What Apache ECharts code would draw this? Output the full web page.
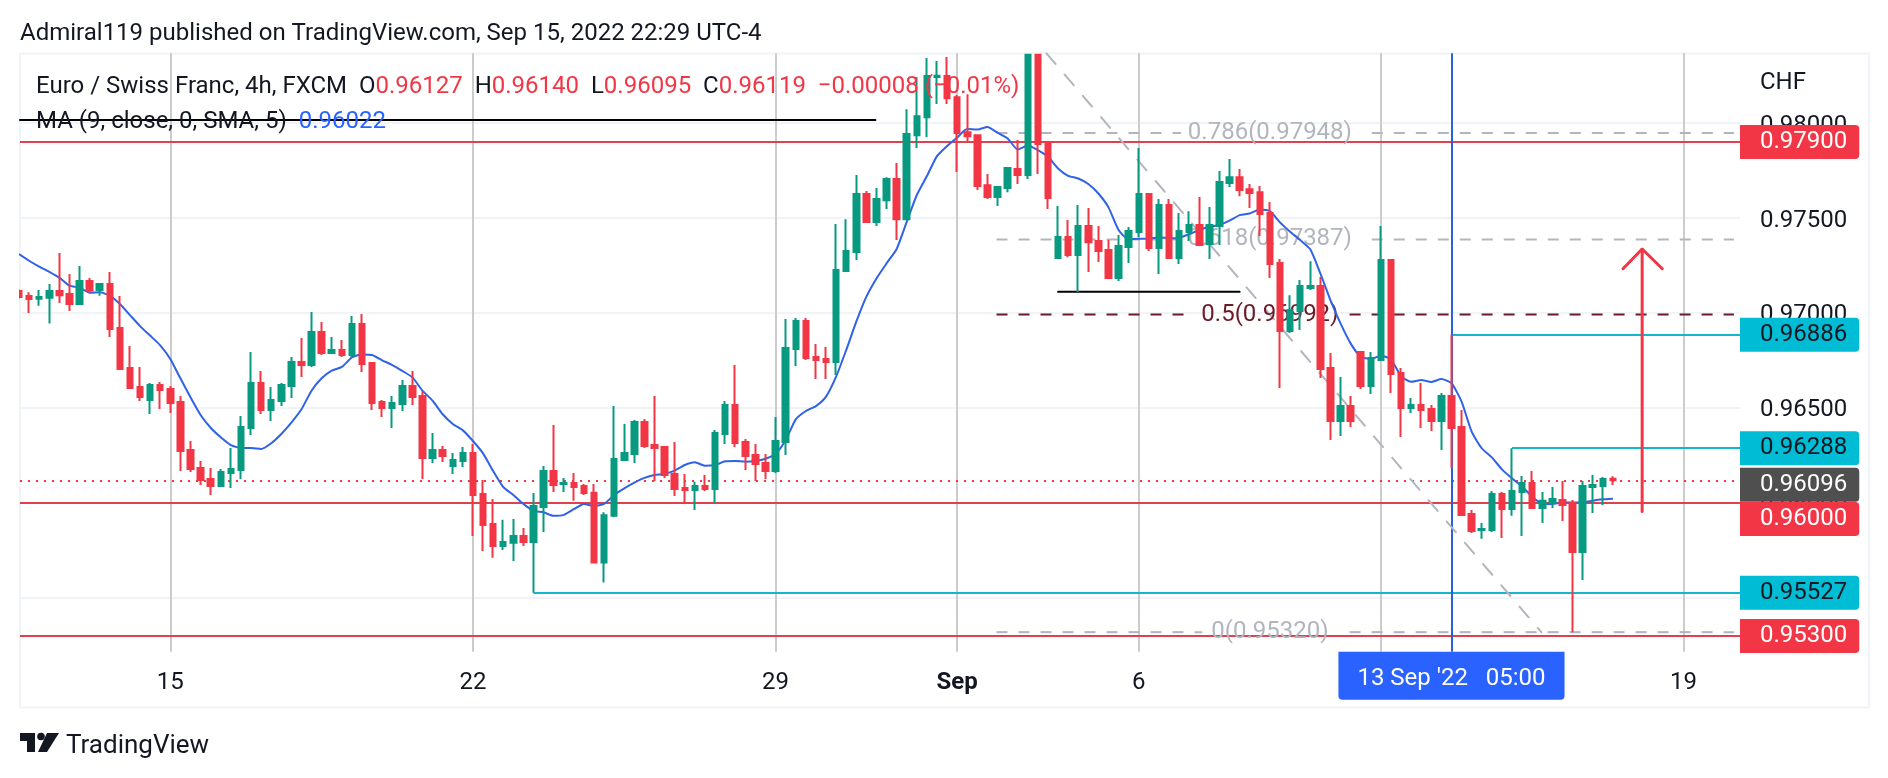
<!DOCTYPE html>
<html>
<head>
<meta charset="utf-8">
<title>EURCHF</title>
<script src="https://cdn.jsdelivr.net/npm/echarts@6/dist/echarts.min.js"></script>
<style>
  html, body { margin: 0; padding: 0; background: #fff; }
  #chart { width: 1888px; height: 778px; }
</style>
</head>
<body>
<div id="chart"></div>
<script>
// candles (bar number = position on the time axis)
const opens = [
  0.97116,0.97089,0.97075,0.97080,0.97116,0.97100,0.97047,0.97168,0.97121,0.97152,
  0.96921,0.96710,0.96610,0.96542,0.96621,0.96600,0.96531,0.96279,0.96184,0.96126,
  0.96089,0.96158,0.96174,0.96395,0.96631,0.96489,0.96537,0.96616,0.96742,0.96726,
  0.96900,0.96789,0.96805,0.96779,0.96942,0.96737,0.96531,0.96500,0.96521,0.96616,
  0.96563,0.96237,0.96279,0.96195,0.96221,0.96263,0.96047,0.95889,0.95774,0.95790,
  0.95826,0.95795,0.95979,0.96168,0.96100,0.96105,0.96089,0.96054,0.95686,0.95932,
  0.96226,0.96258,0.96426,0.96305,0.96295,0.96153,0.96079,0.96068,0.96089,0.96074,
  0.96363,0.96516,0.96321,0.96253,0.96210,0.96168,0.96321,0.96810,0.96958,0.96768,
  0.96758,0.96742,0.97221,0.97321,0.97626,0.97479,0.97594,0.97705,0.97494,0.97936,
  0.98031,0.98242,0.98247,0.98136,0.97952,0.97936,0.97673,0.97610,0.97658,0.97758,
  0.97726,0.98360,0.97900,0.97289,0.97400,0.97305,0.97458,0.97379,0.97331,0.97184,
  0.97347,0.97426,0.97626,0.97342,0.97568,0.97289,0.97426,0.97463,0.97363,0.97458,
  0.97684,0.97715,0.97652,0.97636,0.97526,0.97263,0.96905,0.97010,0.97131,0.97142,
  0.96710,0.96431,0.96510,0.96795,0.96616,0.96752,0.97279,0.96684,0.96500,0.96516,
  0.96495,0.96431,0.96563,0.96400,0.95942,0.95858,0.95858,0.96047,0.95968,0.96058,
  0.96105,0.95974,0.96000,0.96016,0.96000,0.95742,0.96084,0.96089,0.96127
];
const closes = [
  0.97084,0.97073,0.97084,0.97116,0.97094,0.97047,0.97168,0.97119,0.97152,0.96916,
  0.96705,0.96605,0.96558,0.96621,0.96595,0.96526,0.96274,0.96179,0.96121,0.96089,
  0.96163,0.96179,0.96400,0.96631,0.96489,0.96542,0.96621,0.96742,0.96726,0.96900,
  0.96789,0.96805,0.96779,0.96942,0.96731,0.96526,0.96500,0.96526,0.96616,0.96558,
  0.96237,0.96279,0.96247,0.96226,0.96263,0.96042,0.95884,0.95774,0.95795,0.95826,
  0.95795,0.95984,0.96168,0.96095,0.96105,0.96084,0.96053,0.95686,0.95935,0.96232,
  0.96263,0.96426,0.96300,0.96289,0.96147,0.96074,0.96068,0.96089,0.96074,0.96368,
  0.96516,0.96316,0.96247,0.96205,0.96168,0.96326,0.96816,0.96958,0.96763,0.96752,
  0.96742,0.97226,0.97326,0.97626,0.97479,0.97600,0.97705,0.97494,0.97942,0.98036,
  0.98247,0.98249,0.98131,0.97947,0.97931,0.97668,0.97610,0.97663,0.97763,0.97726,
  0.98360,0.97889,0.97605,0.97400,0.97305,0.97458,0.97373,0.97326,0.97184,0.97352,
  0.97431,0.97626,0.97342,0.97568,0.97289,0.97431,0.97463,0.97358,0.97463,0.97689,
  0.97715,0.97647,0.97631,0.97521,0.97258,0.96905,0.97016,0.97142,0.97142,0.96705,
  0.96431,0.96510,0.96431,0.96616,0.96763,0.97279,0.96679,0.96500,0.96516,0.96489,
  0.96431,0.96563,0.96395,0.95937,0.95853,0.95863,0.96047,0.95968,0.96063,0.96105,
  0.95974,0.96011,0.96021,0.95989,0.95742,0.96089,0.96095,0.96126,0.96119
];
const lows = [
  0.97075,0.97000,0.97038,0.96944,0.97052,0.97010,0.97047,0.97107,0.97091,0.96873,
  0.96705,0.96605,0.96537,0.96468,0.96495,0.96474,0.96168,0.96163,0.96095,0.96042,
  0.96089,0.96079,0.96126,0.96358,0.96468,0.96431,0.96510,0.96553,0.96663,0.96716,
  0.96779,0.96789,0.96768,0.96763,0.96689,0.96489,0.96453,0.96395,0.96484,0.96516,
  0.96126,0.96210,0.96216,0.96153,0.96189,0.95826,0.95747,0.95711,0.95753,0.95695,
  0.95774,0.95527,0.95847,0.96058,0.96058,0.96011,0.96042,0.95686,0.95581,0.95926,
  0.96221,0.96210,0.96289,0.96116,0.96132,0.96037,0.96000,0.95963,0.96063,0.96000,
  0.96310,0.96295,0.96174,0.96116,0.96126,0.96158,0.96253,0.96721,0.96752,0.96652,
  0.96652,0.96674,0.97221,0.97279,0.97479,0.97458,0.97547,0.97384,0.97494,0.97868,
  0.97926,0.98100,0.98100,0.97742,0.97900,0.97647,0.97600,0.97563,0.97636,0.97679,
  0.97705,0.97731,0.97547,0.97289,0.97294,0.97110,0.97216,0.97268,0.97184,0.97168,
  0.97263,0.97400,0.97326,0.97205,0.97289,0.97258,0.97379,0.97358,0.97284,0.97358,
  0.97663,0.97615,0.97552,0.97405,0.97184,0.96605,0.96895,0.96910,0.97121,0.96658,
  0.96332,0.96353,0.96400,0.96600,0.96574,0.96752,0.96579,0.96347,0.96474,0.96395,
  0.96379,0.96279,0.96184,0.95932,0.95842,0.95811,0.95847,0.95816,0.95932,0.95826,
  0.95968,0.95895,0.95974,0.95905,0.95320,0.95595,0.95947,0.95989,0.96095
];
const highs = [
  0.97125,0.97109,0.97121,0.97152,0.97316,0.97205,0.97247,0.97184,0.97158,0.97216,
  0.97089,0.96826,0.96716,0.96631,0.96637,0.96616,0.96563,0.96326,0.96221,0.96184,
  0.96179,0.96289,0.96458,0.96795,0.96695,0.96610,0.96631,0.96768,0.96868,0.97005,
  0.96952,0.96873,0.96858,0.96984,0.96995,0.96742,0.96542,0.96563,0.96647,0.96695,
  0.96589,0.96368,0.96300,0.96263,0.96295,0.96310,0.96121,0.96021,0.95911,0.95916,
  0.95868,0.96053,0.96195,0.96410,0.96132,0.96158,0.96100,0.96100,0.95951,0.96510,
  0.96416,0.96437,0.96442,0.96563,0.96295,0.96321,0.96153,0.96111,0.96147,0.96384,
  0.96537,0.96726,0.96337,0.96310,0.96258,0.96453,0.96968,0.96973,0.96973,0.96837,
  0.96821,0.97468,0.97494,0.97726,0.97642,0.97658,0.97715,0.97789,0.98073,0.98242,
  0.98342,0.98326,0.98347,0.98147,0.98152,0.97936,0.97731,0.97668,0.97768,0.97910,
  0.98360,0.98360,0.97900,0.97563,0.97489,0.97568,0.97552,0.97458,0.97384,0.97410,
  0.97452,0.97868,0.97626,0.97600,0.97600,0.97526,0.97536,0.97610,0.97558,0.97747,
  0.97810,0.97758,0.97679,0.97668,0.97584,0.97284,0.97094,0.97173,0.97273,0.97189,
  0.96789,0.96663,0.96563,0.96795,0.96795,0.97458,0.97279,0.96710,0.96553,0.96631,
  0.96516,0.96579,0.96886,0.96489,0.95963,0.95895,0.96063,0.96058,0.96288,0.96142,
  0.96168,0.96058,0.96084,0.96116,0.96016,0.96116,0.96147,0.96137,0.96140
];
// the blue MA line as drawn
const maValues = [
  0.97310,0.97275,0.97244,0.97217,0.97186,0.97144,0.97133,0.97107,0.97109,0.97091,
  0.97047,0.96989,0.96931,0.96881,0.96830,0.96758,0.96656,0.96556,0.96463,0.96396,
  0.96346,0.96305,0.96289,0.96289,0.96284,0.96314,0.96363,0.96423,0.96493,0.96591,
  0.96656,0.96696,0.96716,0.96766,0.96782,0.96779,0.96751,0.96726,0.96695,0.96661,
  0.96591,0.96538,0.96467,0.96416,0.96382,0.96326,0.96261,0.96168,0.96084,0.96042,
  0.95995,0.95958,0.95951,0.95932,0.95937,0.95967,0.95995,0.95984,0.95995,0.96042,
  0.96077,0.96107,0.96132,0.96147,0.96153,0.96170,0.96200,0.96214,0.96196,0.96200,
  0.96219,0.96221,0.96217,0.96221,0.96233,0.96258,0.96331,0.96440,0.96484,0.96510,
  0.96560,0.96665,0.96805,0.96954,0.97086,0.97182,0.97261,0.97337,0.97480,0.97621,
  0.97721,0.97826,0.97879,0.97924,0.97968,0.97966,0.97979,0.97949,0.97919,0.97861,
  0.97882,0.97857,0.97822,0.97761,0.97722,0.97708,0.97679,0.97629,0.97556,0.97437,
  0.97387,0.97391,0.97391,0.97398,0.97393,0.97396,0.97415,0.97437,0.97454,0.97463,
  0.97486,0.97515,0.97524,0.97545,0.97536,0.97477,0.97428,0.97384,0.97335,0.97208,
  0.97068,0.96945,0.96840,0.96770,0.96758,0.96775,0.96756,0.96668,0.96638,0.96647,
  0.96637,0.96652,0.96630,0.96533,0.96375,0.96288,0.96240,0.96177,0.96130,0.96086,
  0.96033,0.95995,0.95995,0.96002,0.96002,0.96002,0.96012,0.96019,0.96022
];

// time axis
const tickBars = [15, 45, 75, 93, 111, 135, 165];
const tickNames = ['15', '22', '29', 'Sep', '6', '12', '19'];
const labelledBars = [15, 45, 75, 93, 111, 165];
// price axis
const priceTicks = [0.955, 0.96, 0.965, 0.97, 0.975, 0.98];

// drawn levels
const redLevels = [0.979, 0.96, 0.953];
const tealLevels = [0.96886, 0.96288, 0.95527];
const tealStartBars = [142, 148, 51];
const lastClose = 0.96119;
const lastTag = 0.96096;
const crosshairBar = 142;
const fibNames = ['0.786(0.97948)', '0.618(0.97387)', '0.5(0.96992)', '0(0.95320)'];
const fibPrices = [0.97948, 0.97387, 0.96992, 0.9532];
const fibGapFrom = [115.2, 115.2, 115.6, 117.3];
const fibGapTo = [134.1, 134.1, 131.9, 131.9];
const fibFrom = 96.9, fibTo = 170, fibLabelBar = 124;

const xMin = 0.1, xMax = 170.6, yMin = 0.95217, yMax = 0.98367;
const RED = '#f23645', GREEN = '#089981', TEAL = '#00bcd4', GREY = '#b2b5be', WINE = '#6d1a27', INK = '#131722';
const FONT = 'Roboto';

const tag = (price, bg, fg, dy) => ({
  show: true, opacity: 1, position: 'end', distance: 0, formatter: price.toFixed(5),
  offset: [0, dy || 0],
  backgroundColor: bg, color: fg, fontFamily: FONT, fontSize: 24, lineHeight: 24,
  padding: [6, 12, 4, 20], borderRadius: [0, 4, 4, 0]
});
const noLabel = { show: false };

const levelLines = [];
redLevels.forEach(v => levelLines.push([
  // the 0.96000 tag is pushed down by the dark tag above it
  { coord: [xMin, v], lineStyle: { color: '#e0414f', width: 2, type: 'solid' }, label: tag(v, RED, '#fff', v === 0.96 ? 16 : 0) },
  { coord: [xMax, v] }
]));
tealLevels.forEach((v, i) => levelLines.push([
  { coord: [tealStartBars[i], v], lineStyle: { color: '#14b6cc', width: 2, type: 'solid' }, label: tag(v, TEAL, INK) },
  { coord: [xMax, v] }
]));
levelLines.push([
  { coord: [xMin, lastClose], lineStyle: { color: RED, width: 2, type: [2, 6] }, label: noLabel },
  { coord: [xMax, lastClose] }
]);
levelLines.push([
  { coord: [xMin, lastTag], lineStyle: { color: '#fff', width: 0, opacity: 0 }, label: tag(lastTag, '#4f4f4f', '#fff') },
  { coord: [xMax, lastTag] }
]);
// the crosshair and its date tag
levelLines.push([
  { coord: [crosshairBar, yMin], lineStyle: { color: '#2b5fdc', width: 2, type: 'solid' },
    label: { show: true, position: 'start', distance: 0, formatter: "13 Sep '22   05:00",
      backgroundColor: '#2962ff', color: '#fff', fontFamily: FONT, fontSize: 24, lineHeight: 24,
      padding: [15, 19, 9, 19], borderRadius: [0, 0, 4, 4] } },
  { coord: [crosshairBar, yMax] }
]);

const fibSeries = [];
fibPrices.forEach((v, i) => {
  const color = fibNames[i].startsWith('0.5') ? WINE : GREY;
  [[fibFrom, fibGapFrom[i]], [fibGapTo[i], fibTo]].forEach(seg => fibSeries.push({
    type: 'line', z: 1, silent: true, symbol: 'none',
    lineStyle: { color, width: 2, type: [11, 11] },
    data: [[seg[0], v], [seg[1], v]]
  }));
});

const plainLine = (data, color, width, type, z) => ({
  type: 'line', z, silent: true, symbol: 'none', lineStyle: { color, width, type, cap: 'round' }, data
});

const option = {
  animation: false,
  backgroundColor: '#fff',
  textStyle: { fontFamily: FONT },
  graphic: [
    { type: 'rect', z: -10, silent: true, shape: { x: 20, y: 53.5, width: 1849, height: 654 },
      style: { fill: 'none', stroke: '#f0f3f7', lineWidth: 2 } },
    // the first candle is cut by the pane edge
    { type: 'rect', z: 50, silent: true, shape: { x: 0, y: 54, width: 19, height: 598 }, style: { fill: '#fff' } },
    // TradingView mark
    { type: 'polygon', silent: true, shape: { points: [[20, 733], [35, 733], [35, 752], [27, 752], [27, 741], [20, 741]] }, style: { fill: INK } },
    { type: 'circle', silent: true, shape: { cx: 41, cy: 736.5, r: 3.8 }, style: { fill: INK } },
    { type: 'polygon', silent: true, shape: { points: [[47, 733], [59, 733], [47, 752], [38, 752]] }, style: { fill: INK } }
  ],
  title: [
    { text: 'Admiral119 published on TradingView.com, Sep 15, 2022 22:29 UTC-4', left: 20, top: 22, padding: 0,
      textStyle: { fontFamily: FONT, fontSize: 24, fontWeight: 'normal', color: INK } },
    { text: 'Euro / Swiss Franc, 4h, FXCM  O{r|0.96127}  H{r|0.96140}  L{r|0.96095}  C{r|0.96119}  {r|\u22120.00008 (\u22120.01%)}',
      left: 36, top: 75, z: 20, padding: 0,
      textStyle: { fontFamily: FONT, fontSize: 24, fontWeight: 'normal', color: INK,
        rich: { r: { fontFamily: FONT, fontSize: 24, color: RED } } } },
    { text: 'MA (9, close, 0, SMA, 5)  {b|0.96022}', left: 36, top: 110, z: 20, padding: 0,
      textStyle: { fontFamily: FONT, fontSize: 24, fontWeight: 'normal', color: INK,
        rich: { b: { fontFamily: FONT, fontSize: 24, color: '#2962ff' } } } },
    { text: 'CHF', left: 1760, top: 71, padding: 0,
      textStyle: { fontFamily: FONT, fontSize: 24, fontWeight: 'normal', color: INK } },
    { text: 'TradingView', left: 66, top: 733, padding: 0,
      textStyle: { fontFamily: FONT, fontSize: 26, fontWeight: 'normal', color: INK } }
  ],
  grid: { left: 20, right: 148, top: 53.3, bottom: 126.3 },
  xAxis: {
    type: 'value', min: xMin, max: xMax,
    axisLine: { show: false },
    axisTick: { show: false, customValues: tickBars },
    splitLine: { show: true, lineStyle: { color: '#cccccc', width: 2 } },
    axisLabel: {
      customValues: labelledBars, margin: 19, color: INK, fontFamily: FONT, fontSize: 24,
      formatter: v => { const n = tickNames[tickBars.indexOf(v)]; return n === 'Sep' ? '{b|Sep}' : n; },
      rich: { b: { fontFamily: FONT, fontSize: 24, fontWeight: 'bold', color: INK } }
    }
  },
  yAxis: {
    type: 'value', position: 'right', min: yMin, max: yMax,
    axisLine: { show: false },
    axisTick: { show: false, customValues: priceTicks },
    splitLine: { show: true, lineStyle: { color: '#f0f3f7', width: 2 } },
    axisLabel: {
      customValues: priceTicks, margin: 20,
      formatter: v => '{v|' + v.toFixed(5) + '}',
      rich: { v: { color: INK, fontFamily: FONT, fontSize: 24, lineHeight: 24, padding: [5, 0, 0, 0] } }
    }
  },
  series: [
    ...fibSeries,
    plainLine([[101.85, 0.98367], [150.9, 0.9532]], GREY, 2, [14, 14], 1),
    {
      type: 'scatter', z: 1, silent: true, symbolSize: 1, itemStyle: { opacity: 0 },
      data: fibPrices.map((v, i) => ({
        value: [fibLabelBar, v, fibNames[i]],
        label: { color: fibNames[i].startsWith('0.5') ? WINE : GREY }
      })),
      label: {
        show: true, opacity: 1, position: 'inside', offset: [0, 2], fontFamily: FONT, fontSize: 24,
        formatter: p => p.value[2]
      },
      labelLayout: { hideOverlap: false }
    },
    plainLine([[0.1, 0.98016], [84.9, 0.98016]], '#000', 2, 'solid', 1),
    plainLine([[103, 0.97112], [121, 0.97112]], '#000', 2, 'solid', 1),
    {
      name: 'MA', type: 'line', z: 2, silent: true, symbol: 'none', smooth: 0.2,
      lineStyle: { color: '#2f62e6', width: 2 },
      data: maValues.map((v, i) => [i, v]),
      markLine: { silent: true, z: 1, symbol: 'none', animation: false, data: levelLines }
    },
    {
      name: 'EURCHF', type: 'candlestick', z: 3, silent: true, clip: true, barWidth: 6,
      itemStyle: { color: GREEN, color0: RED, borderColor: GREEN, borderColor0: RED, borderWidth: 2 },
      data: opens.map((o, i) => [i, o, closes[i], lows[i], highs[i]])
    },
    plainLine([[160.9, 0.95955], [160.9, 0.97337]], RED, 3, 'solid', 4),
    plainLine([[159, 0.97233], [160.9, 0.97337], [162.9, 0.97233]], RED, 3, 'solid', 4)
  ]
};

const chart = echarts.init(document.getElementById('chart'), null, { renderer: 'canvas' });
chart.setOption(option);
</script>
</body>
</html>
